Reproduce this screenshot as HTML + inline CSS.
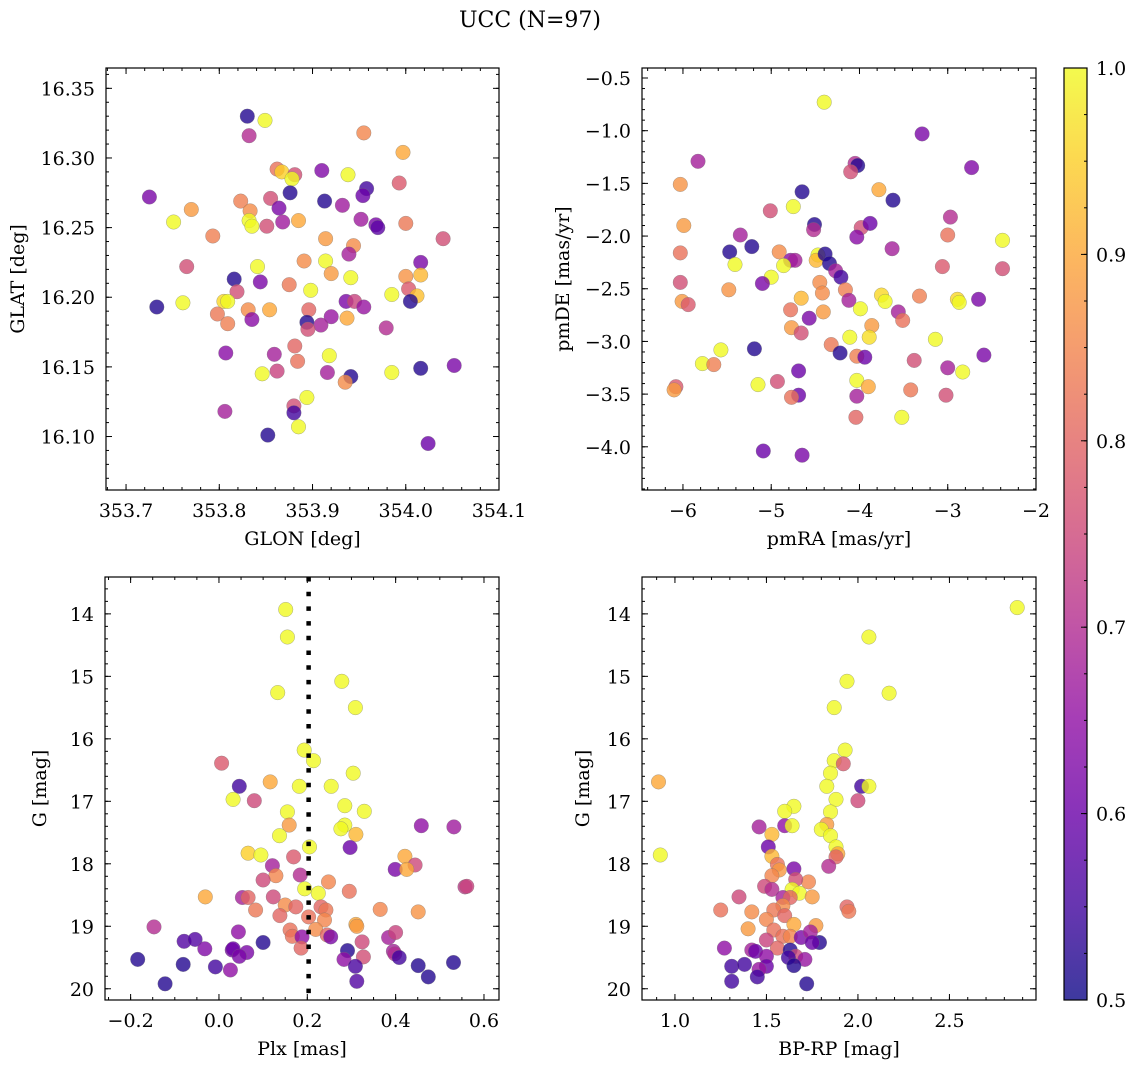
<!DOCTYPE html>
<html><head><meta charset="utf-8"><title>UCC (N=97)</title>
<style>
html,body{margin:0;padding:0;background:#fff;}
svg{display:block;font-family:"DejaVu Serif","Liberation Serif",serif;}
</style></head>
<body>
<svg id="fig" xmlns="http://www.w3.org/2000/svg" width="1136" height="1067" viewBox="0 0 1136 1067">
<text x="530" y="27" font-size="22" text-anchor="middle">UCC (N=97)</text>
</svg>
<script>
// ---- Panel 1: GLON / GLAT ----
const p1Glon = [353.830,353.849,353.832,353.955,353.997,353.862,353.867,353.881,353.878,353.910,353.938,353.993,353.725,353.876,353.913,353.958,353.954,353.823,353.855,353.864,353.932,353.770,353.833,353.751,353.832,353.835,353.851,353.868,353.885,353.952,353.968,353.970,354.000,354.040,353.793,353.914,353.944,353.939,354.016,353.891,353.914,353.765,353.841,353.920,353.941,354.000,354.016,353.816,353.844,353.875,353.898,354.003,353.819,353.985,354.012,354.005,353.733,353.761,353.805,353.809,353.831,353.854,353.896,353.936,353.945,353.955,353.798,353.835,353.920,353.937,353.809,353.894,353.909,353.895,353.979,353.881,353.807,353.859,353.884,353.918,353.846,353.862,353.916,353.941,353.935,353.985,354.016,354.052,353.894,353.806,353.880,353.880,353.885,353.852,354.024];
const p1Glat = [16.330,16.327,16.316,16.318,16.304,16.292,16.290,16.288,16.285,16.291,16.288,16.282,16.272,16.275,16.269,16.278,16.273,16.269,16.271,16.264,16.266,16.263,16.262,16.254,16.255,16.251,16.251,16.254,16.255,16.256,16.252,16.250,16.253,16.242,16.244,16.242,16.237,16.231,16.225,16.226,16.226,16.222,16.222,16.217,16.214,16.215,16.216,16.213,16.211,16.209,16.205,16.206,16.204,16.202,16.201,16.197,16.193,16.196,16.197,16.197,16.191,16.191,16.191,16.197,16.197,16.193,16.188,16.184,16.186,16.185,16.181,16.182,16.180,16.177,16.178,16.165,16.160,16.159,16.154,16.158,16.145,16.147,16.146,16.143,16.139,16.146,16.149,16.151,16.128,16.118,16.122,16.117,16.107,16.101,16.095];
const p1Prob = [0.52,1.0,0.70,0.85,0.90,0.82,0.95,0.76,1.0,0.63,1.0,0.78,0.62,0.52,0.52,0.55,0.60,0.84,0.76,0.62,0.67,0.88,0.86,1.0,1.0,1.0,0.76,0.67,0.90,0.67,0.62,0.58,0.83,0.76,0.84,0.88,0.86,0.68,0.62,0.86,1.0,0.76,1.0,0.88,1.0,0.87,0.92,0.52,0.62,0.83,1.0,0.78,0.76,1.0,0.93,0.52,0.52,1.0,0.96,1.0,0.86,0.90,0.80,0.62,0.74,0.66,0.83,0.64,0.66,0.90,0.84,0.52,0.68,0.76,0.70,0.80,0.64,0.68,0.82,1.0,1.0,0.74,0.68,0.52,0.86,1.0,0.52,0.62,1.0,0.68,0.76,0.55,1.0,0.52,0.60];
// ---- Panel 2: pmRA / pmDE ----
const p2PmRA = [-4.40,-3.29,-5.83,-4.05,-4.02,-4.10,-2.73,-6.03,-3.78,-4.65,-3.62,-4.75,-5.01,-2.97,-5.99,-4.51,-4.52,-3.98,-3.88,-4.03,-3.00,-5.35,-2.38,-5.47,-5.22,-6.03,-4.91,-3.63,-5.41,-4.78,-4.73,-4.86,-4.47,-4.49,-4.39,-4.34,-4.27,-4.21,-5.00,-5.10,-6.03,-3.06,-2.38,-4.45,-4.42,-4.16,-5.48,-6.01,-5.94,-4.66,-4.12,-3.75,-3.71,-3.32,-2.89,-2.87,-2.65,-3.99,-4.78,-4.41,-4.57,-3.56,-3.51,-4.77,-4.66,-3.86,-4.32,-4.11,-3.89,-3.14,-5.19,-4.22,-4.03,-3.94,-5.57,-5.78,-5.65,-2.59,-3.38,-3.00,-2.83,-4.69,-5.15,-4.93,-4.03,-3.90,-6.08,-6.10,-3.42,-4.69,-4.77,-4.03,-3.02,-4.04,-3.52,-5.09,-4.65];
const p2PmDE = [-0.73,-1.03,-1.29,-1.31,-1.33,-1.39,-1.35,-1.51,-1.56,-1.58,-1.66,-1.72,-1.76,-1.82,-1.90,-1.89,-1.94,-1.92,-1.88,-2.01,-1.99,-1.99,-2.04,-2.15,-2.10,-2.16,-2.15,-2.12,-2.27,-2.23,-2.23,-2.28,-2.18,-2.23,-2.17,-2.26,-2.33,-2.39,-2.39,-2.45,-2.44,-2.29,-2.31,-2.44,-2.54,-2.51,-2.51,-2.62,-2.65,-2.59,-2.61,-2.56,-2.62,-2.57,-2.60,-2.63,-2.60,-2.69,-2.70,-2.72,-2.78,-2.72,-2.80,-2.87,-2.92,-2.85,-3.03,-2.96,-2.96,-2.98,-3.07,-3.11,-3.14,-3.15,-3.08,-3.21,-3.22,-3.13,-3.18,-3.25,-3.29,-3.28,-3.41,-3.38,-3.37,-3.43,-3.43,-3.46,-3.46,-3.51,-3.53,-3.52,-3.51,-3.72,-3.72,-4.04,-4.08];
const p2Prob = [1.0,0.62,0.68,0.70,0.52,0.76,0.63,0.87,0.90,0.52,0.52,1.0,0.76,0.70,0.88,0.52,0.70,0.76,0.60,0.64,0.82,0.68,1.0,0.52,0.52,0.82,0.86,0.68,1.0,0.64,0.68,1.0,1.0,0.92,0.52,0.52,0.68,0.55,1.0,0.62,0.76,0.78,0.76,0.86,0.86,0.84,0.87,0.88,0.78,0.92,0.68,0.96,1.0,0.84,0.96,1.0,0.62,1.0,0.82,0.88,0.62,0.68,0.82,0.88,0.76,0.88,0.83,1.0,0.97,1.0,0.52,0.52,0.84,0.60,1.0,1.0,0.84,0.62,0.76,0.68,1.0,0.60,1.0,0.76,1.0,0.90,0.78,0.88,0.83,0.60,0.82,0.68,0.76,0.80,1.0,0.60,0.62];
// ---- Panel 3: Plx / G ----
const p3Plx = [0.151,0.155,0.278,0.133,0.309,0.193,0.214,0.006,0.304,0.046,0.116,0.182,0.254,0.032,0.080,0.155,0.285,0.329,0.159,0.285,0.276,0.458,0.532,0.137,0.310,0.205,0.297,0.066,0.095,0.169,0.421,0.121,0.399,0.444,0.425,0.129,0.100,0.184,0.248,-0.031,0.053,0.066,0.123,0.194,0.225,0.295,0.557,0.561,0.083,0.150,0.174,0.138,0.231,0.242,0.365,0.451,0.203,0.239,0.310,0.312,-0.147,0.219,0.161,0.166,0.188,0.245,0.253,0.044,-0.079,-0.054,0.100,0.384,0.400,0.324,-0.032,0.030,0.032,0.063,0.046,0.186,0.291,0.395,0.398,0.327,0.408,0.283,-0.184,-0.081,-0.008,0.026,0.309,0.451,0.531,0.474,-0.122,0.312];
const p3G = [13.93,14.37,15.08,15.26,15.50,16.18,16.35,16.39,16.55,16.76,16.69,16.76,16.76,16.97,16.99,17.17,17.07,17.16,17.38,17.38,17.44,17.39,17.41,17.55,17.53,17.73,17.74,17.83,17.86,17.89,17.88,18.03,18.09,18.02,18.09,18.19,18.26,18.18,18.29,18.53,18.54,18.54,18.53,18.40,18.47,18.44,18.37,18.36,18.74,18.66,18.69,18.83,18.69,18.74,18.73,18.77,18.85,18.90,18.97,19.00,19.01,19.05,19.06,19.16,19.17,19.14,19.17,19.09,19.24,19.21,19.26,19.18,19.10,19.25,19.36,19.38,19.36,19.42,19.48,19.35,19.39,19.40,19.44,19.49,19.50,19.53,19.53,19.61,19.65,19.70,19.64,19.63,19.58,19.81,19.92,19.88];
const p3Prob = [1.0,1.0,1.0,1.0,1.0,1.0,1.0,0.78,1.0,0.55,0.90,1.0,1.0,1.0,0.75,1.0,1.0,1.0,0.88,1.0,1.0,0.65,0.67,1.0,0.92,1.0,0.60,0.95,1.0,0.78,0.90,0.68,0.62,0.75,0.90,0.85,0.75,0.70,0.85,0.90,0.68,0.80,0.75,1.0,1.0,0.82,0.72,0.74,0.83,0.86,0.80,0.80,0.80,0.83,0.85,0.87,0.82,0.85,0.90,0.88,0.70,0.86,0.82,0.82,0.65,0.80,0.62,0.65,0.57,0.57,0.52,0.68,0.74,0.75,0.63,0.62,0.60,0.62,0.62,0.80,0.52,0.68,0.70,0.76,0.55,0.65,0.52,0.52,0.55,0.65,0.56,0.52,0.52,0.52,0.52,0.57];
const p3PlxRef = [0.203];
// ---- Panel 4: BP-RP / G ----
const p4BpRp = [2.87,2.06,1.94,2.17,1.87,1.93,1.87,1.92,1.85,0.91,2.02,2.06,1.83,2.00,1.88,1.65,1.60,1.85,1.46,1.60,1.64,1.83,1.80,1.85,1.53,1.51,1.88,0.92,1.53,1.89,1.88,1.84,1.56,1.65,1.57,1.53,1.73,1.66,1.49,1.53,1.64,1.68,1.75,1.35,1.59,1.63,1.59,1.94,1.95,1.25,1.42,1.54,1.60,1.50,1.65,1.77,1.40,1.54,1.59,1.63,1.69,1.74,1.79,1.75,1.50,1.27,1.42,1.44,1.56,1.63,1.66,1.71,1.50,1.62,1.31,1.38,1.50,1.65,1.46,1.45,1.31,1.72];
const p4G = [13.90,14.37,15.08,15.27,15.50,16.18,16.35,16.40,16.55,16.69,16.76,16.76,16.76,16.99,16.97,17.08,17.16,17.17,17.41,17.39,17.39,17.37,17.45,17.55,17.53,17.73,17.73,17.86,17.88,17.84,17.89,18.04,18.01,18.08,18.10,18.19,18.29,18.25,18.36,18.41,18.41,18.47,18.53,18.53,18.54,18.54,18.67,18.69,18.76,18.74,18.77,18.74,18.83,18.89,18.97,18.99,19.04,19.06,19.16,19.16,19.18,19.09,19.26,19.26,19.22,19.35,19.38,19.40,19.35,19.38,19.48,19.53,19.48,19.50,19.64,19.61,19.64,19.63,19.69,19.81,19.88,19.92];
const p4Prob = [1.0,1.0,1.0,1.0,1.0,1.0,1.0,0.78,1.0,0.90,0.55,1.0,1.0,0.75,1.0,1.0,1.0,1.0,0.68,0.65,1.0,0.88,1.0,1.0,0.92,0.60,1.0,1.0,0.92,0.90,0.80,0.70,0.82,0.62,0.88,0.85,0.85,0.76,0.75,0.70,1.0,1.0,0.88,0.75,0.68,0.80,0.86,0.80,0.83,0.82,0.86,0.83,0.80,0.85,0.90,0.88,0.88,0.82,0.82,0.85,0.62,0.68,0.52,0.60,0.74,0.65,0.68,0.60,0.80,0.52,0.75,0.66,0.65,0.55,0.55,0.55,0.60,0.52,0.66,0.55,0.55,0.52];
// ---- tick labels ----
const p1XTicks = [353.7,353.8,353.9,354.0,354.1];
const p1YTicks = [16.10,16.15,16.20,16.25,16.30,16.35];
const p2XTicks = [-6,-5,-4,-3,-2];
const p2YTicks = [-4.0,-3.5,-3.0,-2.5,-2.0,-1.5,-1.0,-0.5];
const p3XTicks = [-0.2,0.0,0.2,0.4,0.6];
const gTicks = [14,15,16,17,18,19,20];
const p4XTicks = [1.0,1.5,2.0,2.5];
const cbTicks = [0.5,0.6,0.7,0.8,0.9,1.0];

const NS = 'http://www.w3.org/2000/svg';
const svg = document.getElementById('fig');
const FS = 19;
function mk(tag, attrs, parent){ const e=document.createElementNS(NS,tag); for(const k in attrs) e.setAttribute(k,attrs[k]); (parent||svg).appendChild(e); return e; }
const stops=[[0,[13,8,135]],[0.1,[65,4,157]],[0.2,[106,0,168]],[0.3,[143,13,164]],[0.4,[177,42,144]],[0.5,[204,71,120]],[0.6,[225,100,98]],[0.7,[242,132,75]],[0.8,[252,166,54]],[0.9,[252,206,37]],[1,[240,249,33]]];
function plasma(t){ t=Math.max(0,Math.min(1,t)); for(let i=1;i<stops.length;i++){ if(t<=stops[i][0]){ const a=stops[i-1],b=stops[i],f=(t-a[0])/(b[0]-a[0]); return 'rgb('+a[1].map((v,j)=>Math.round(v+(b[1][j]-v)*f)).join(',')+')'; } } return 'rgb(240,249,33)'; }
function cmap(p){ return plasma((p-0.5)/0.5); }
const fmtMinus = s => s.replace('-','\u2212');

function panel(cfg){
  const {name,L,T,R,B,xmin,xmax,ymin,ymax,invertY} = cfg;
  const sx = v => L + (v-xmin)/(xmax-xmin)*(R-L);
  const sy = invertY ? (v => T + (v-ymin)/(ymax-ymin)*(B-T)) : (v => B - (v-ymin)/(ymax-ymin)*(B-T));
  const g = mk('g',{});
  
  
  const clipId = name+'-clip';
  const cp = mk('clipPath',{id:clipId},g); mk('rect',{x:L,y:T,width:R-L,height:B-T},cp);
  const pts = mk('g',{'clip-path':'url(#'+clipId+')'},g);
  
  
  for(let i=0;i<cfg.xs.length;i++){
    const c = mk('circle',{cx:sx(cfg.xs[i]).toFixed(1),cy:sy(cfg.ys[i]).toFixed(1),r:7.3,fill:cmap(cfg.cs[i]),'fill-opacity':0.8,stroke:'#777','stroke-opacity':0.6,'stroke-width':0.5},pts);
    
    
  }
  if(cfg.vline){ for(const v of cfg.vline){ const l=mk('line',{x1:sx(v),x2:sx(v),y1:T,y2:B,stroke:'#000','stroke-width':4.5,'stroke-dasharray':'4.5 10.2'},pts);
    
     } }
  const tk = mk('g',{stroke:'#000','stroke-width':1},g);
  const eps=1e-9;
  for(let v=Math.ceil(xmin/cfg.xminor-eps)*cfg.xminor; v<=xmax+eps; v+=cfg.xminor){ const x=sx(v); mk('line',{x1:x,x2:x,y1:B,y2:B-3},tk); mk('line',{x1:x,x2:x,y1:T,y2:T+3},tk); }
  for(let v=Math.ceil(ymin/cfg.yminor-eps)*cfg.yminor; v<=ymax+eps; v+=cfg.yminor){ const y=sy(v); mk('line',{x1:L,x2:L+3,y1:y,y2:y},tk); mk('line',{x1:R,x2:R-3,y1:y,y2:y},tk); }
  for(const v of cfg.xticks){ const x=sx(v); mk('line',{x1:x,x2:x,y1:B,y2:B-6},tk); mk('line',{x1:x,x2:x,y1:T,y2:T+6},tk);
    const t=mk('text',{x:x,y:B+27,'font-size':FS,'text-anchor':'middle'},g); t.textContent=fmtMinus(v.toFixed(cfg.xdec));
    
     }
  for(const v of cfg.yticks){ const y=sy(v); mk('line',{x1:L,x2:L+6,y1:y,y2:y},tk); mk('line',{x1:R,x2:R-6,y1:y,y2:y},tk);
    const t=mk('text',{x:L-11,y:y+7,'font-size':FS,'text-anchor':'end'},g); t.textContent=fmtMinus(v.toFixed(cfg.ydec));
    
     }
  const fr = mk('rect',{x:L,y:T,width:R-L,height:B-T,fill:'none',stroke:'#000','stroke-width':1.2},g);
  
  
  const xl = mk('text',{x:(L+R)/2,y:B+55,'font-size':FS,'text-anchor':'middle'},g); xl.textContent=cfg.xlabel;
  
  
  const yl = mk('text',{x:cfg.ylx,y:(T+B)/2,'font-size':FS,'text-anchor':'middle',transform:'rotate(-90 '+cfg.ylx+' '+(T+B)/2+')'},g); yl.textContent=cfg.ylabel;
  
  
}

panel({name:'glon-glat-panel',L:106,T:68,R:499,B:490,xmin:353.6785,xmax:354.1,ymin:16.0616,ymax:16.3646,xs:p1Glon,ys:p1Glat,cs:p1Prob,xticks:p1XTicks,yticks:p1YTicks,xminor:0.02,yminor:0.01,xdec:1,ydec:2,xlabel:'GLON [deg]',ylabel:'GLAT [deg]',ylx:24});
panel({name:'proper-motion-panel',L:642,T:68,R:1036,B:490,xmin:-6.464,xmax:-2,ymin:-4.41,ymax:-0.405,xs:p2PmRA,ys:p2PmDE,cs:p2Prob,xticks:p2XTicks,yticks:p2YTicks,xminor:0.2,yminor:0.1,xdec:0,ydec:1,xlabel:'pmRA [mas/yr]',ylabel:'pmDE [mas/yr]',ylx:569});
panel({name:'parallax-magnitude-panel',L:105,T:577,R:499,B:1000,xmin:-0.258,xmax:0.634,ymin:13.41,ymax:20.18,invertY:true,xs:p3Plx,ys:p3G,cs:p3Prob,vline:p3PlxRef,xticks:p3XTicks,yticks:gTicks,xminor:0.05,yminor:0.2,xdec:1,ydec:0,xlabel:'Plx [mas]',ylabel:'G [mag]',ylx:46});
panel({name:'color-magnitude-panel',L:642,T:577,R:1036,B:1000,xmin:0.82,xmax:2.973,ymin:13.41,ymax:20.18,invertY:true,xs:p4BpRp,ys:p4G,cs:p4Prob,xticks:p4XTicks,yticks:gTicks,xminor:0.1,yminor:0.2,xdec:1,ydec:0,xlabel:'BP-RP [mag]',ylabel:'G [mag]',ylx:589});

(function(){
  const L=1064,R=1087,T=68,B=1000;
  const g=mk('g',{});
  
  
  const defs=mk('defs',{},g);
  const lg=mk('linearGradient',{id:'cbgrad',x1:0,y1:1,x2:0,y2:0},defs);
  for(let i=0;i<=20;i++){ mk('stop',{offset:i/20,'stop-color':plasma(i/20),'stop-opacity':0.8},lg); }
  mk('rect',{x:L,y:T,width:R-L,height:B-T,fill:'url(#cbgrad)',stroke:'#000','stroke-width':1.2},g);
  const sy=v=>B-(v-0.5)/0.5*(B-T);
  for(let v=0.5;v<=1.0001;v+=0.025){ mk('line',{x1:R,x2:R-3,y1:sy(v),y2:sy(v),stroke:'#000'},g); }
  for(const v of cbTicks){ const y=sy(v); mk('line',{x1:R,x2:R-6,y1:y,y2:y,stroke:'#000'},g);
    const t=mk('text',{x:R+9,y:y+7,'font-size':FS},g); t.textContent=v.toFixed(1);
    
     }
})();
</script>
</body></html>
